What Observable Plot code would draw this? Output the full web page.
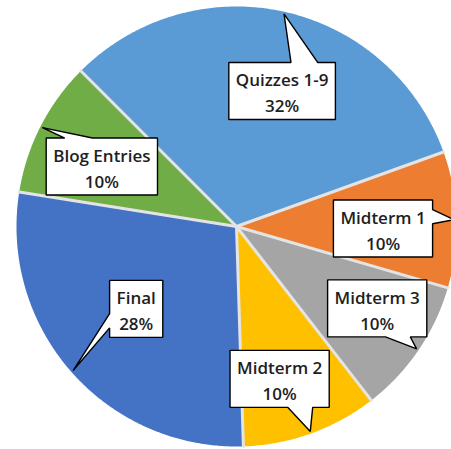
<!DOCTYPE html>
<html>
<head>
<meta charset="utf-8">
<script src="https://cdn.jsdelivr.net/npm/d3@7"></script>
<script src="https://cdn.jsdelivr.net/npm/@observablehq/plot@0.6"></script>
<style>
  html, body { margin: 0; padding: 0; background: #fff; }
  #chart { width: 451px; height: 449px; overflow: hidden; }
</style>
</head>
<body>
<div id="chart"></div>
<script>
// ---- data ----
const categories = ["Quizzes 1-9", "Midterm 1", "Midterm 3", "Midterm 2", "Final", "Blog Entries"];
const values = [32, 10, 10, 10, 28, 10];
const colors = ["#5B9BD5", "#ED7D31", "#A5A5A5", "#FFC000", "#4472C4", "#70AD47"];

// ---- layout (not data) ----
const W = 451, H = 449;
const CX = 236, CY = 226, R = 220;          // pie centre / radius in px
const startAngle = -45;                      // degrees clockwise from 12 o'clock
const labelRadius = [0.65, 0.666, 0.74, 0.72, 0.59, 0.67];
const labelAngleNudge = [6, 2.6, -4, 4, 2, -3];
const tipRadius = 0.99;
const fontSize = 17;
const fontFamily = "'Open Sans', sans-serif";
const fontWeight = 600;
const boxPadX = 7, boxH = 57, lineGap = 26;

const total = d3.sum(values);
const rad = d => d * Math.PI / 180;
const k = 1 / R; // px -> units

// slices
const slices = [];
let acc = startAngle;
categories.forEach((c, i) => {
  const a1 = acc, a2 = acc + values[i] / total * 360;
  slices.push({cat: c, a1, a2, mid: (a1 + a2) / 2, value: values[i]});
  acc = a2;
});

const slicePts = [];
slices.forEach(s => {
  slicePts.push({cat: s.cat, x: 0, y: 0});
  const n = Math.ceil((s.a2 - s.a1) / 0.5);
  for (let j = 0; j <= n; j++) {
    const a = rad(s.a1 + (s.a2 - s.a1) * j / n);
    slicePts.push({cat: s.cat, x: Math.sin(a), y: Math.cos(a)});
  }
});

const separators = slices.map(s => ({x: Math.sin(rad(s.a1)), y: Math.cos(rad(s.a1))}));

// text measurement
const ctx = document.createElement("canvas").getContext("2d");
ctx.font = `${fontWeight} ${fontSize}px ${fontFamily}`;

// callouts (built in px space, converted to units)
const toU = (px, py) => ({x: (px - CX) * k, y: (CY - py) * k});
const callPts = [];
const labels = [];
slices.forEach((s, i) => {
  const pct = Math.round(s.value / total * 100) + "%";
  const tw = Math.max(ctx.measureText(s.cat).width, ctx.measureText(pct).width);
  const w = tw + 2 * boxPadX, h = boxH;
  const la = rad(s.mid + labelAngleNudge[i]);
  const cx = CX + R * labelRadius[i] * Math.sin(la);
  const cy = CY - R * labelRadius[i] * Math.cos(la);
  const ta = rad(s.mid);
  const tx = CX + R * tipRadius * Math.sin(ta);
  const ty = CY - R * tipRadius * Math.cos(ta);
  const x0 = cx - w / 2, x1 = cx + w / 2, y0 = cy - h / 2, y1 = cy + h / 2;
  const dxPos = tx - cx, dyPos = ty - cy;
  const dq = dxPos * h / w;
  const xg1 = dxPos > 0 ? 7 : 2, xg2 = dxPos > 0 ? 10 : 5;
  const yg1 = dyPos > 0 ? 7 : 2, yg2 = dyPos > 0 ? 10 : 5;
  const bx1 = x0 + w * xg1 / 12, bx2 = x0 + w * xg2 / 12;
  const by1 = y0 + h * yg1 / 12, by2 = y0 + h * yg2 / 12;
  let poly;
  if (Math.abs(dq) > Math.abs(dyPos)) {
    if (dxPos < 0) poly = [[x0,y0],[x1,y0],[x1,y1],[x0,y1],[x0,by2],[tx,ty],[x0,by1]];
    else poly = [[x0,y0],[x1,y0],[x1,by1],[tx,ty],[x1,by2],[x1,y1],[x0,y1]];
  } else {
    if (dyPos < 0) poly = [[x0,y0],[bx1,y0],[tx,ty],[bx2,y0],[x1,y0],[x1,y1],[x0,y1]];
    else poly = [[x0,y0],[x1,y0],[x1,y1],[bx2,y1],[tx,ty],[bx1,y1],[x0,y1]];
  }
  poly.forEach(([px, py]) => callPts.push({cat: s.cat, ...toU(px, py)}));
  labels.push({cat: s.cat, text: s.cat + "\n" + pct, ...toU(cx, cy)});
});

const chart = Plot.plot({
  width: W,
  height: H,
  margin: 0,
  x: {domain: [-CX * k, (W - CX) * k], axis: null},
  y: {domain: [-(H - CY) * k, CY * k], axis: null},
  color: {domain: categories, range: colors},
  marks: [
    Plot.line(slicePts, {x: "x", y: "y", z: "cat", fill: "cat", stroke: "none", curve: "linear-closed"}),
    Plot.link(separators, {x1: 0, y1: 0, x2: "x", y2: "y", stroke: "#e4e4e4", strokeWidth: 3, strokeLinecap: "round"}),
    Plot.line(callPts, {x: "x", y: "y", z: "cat", fill: "white", stroke: "#000", strokeWidth: 1.4, strokeLinejoin: "miter", curve: "linear-closed"}),
    Plot.text(labels, {x: "x", y: "y", text: "text", fill: "#1e1e1e", fontSize: fontSize, fontWeight: fontWeight, fontFamily: fontFamily, lineHeight: lineGap / fontSize, lineAnchor: "middle", textAnchor: "middle"})
  ]
});
document.getElementById("chart").appendChild(chart);
</script>
</body>
</html>
